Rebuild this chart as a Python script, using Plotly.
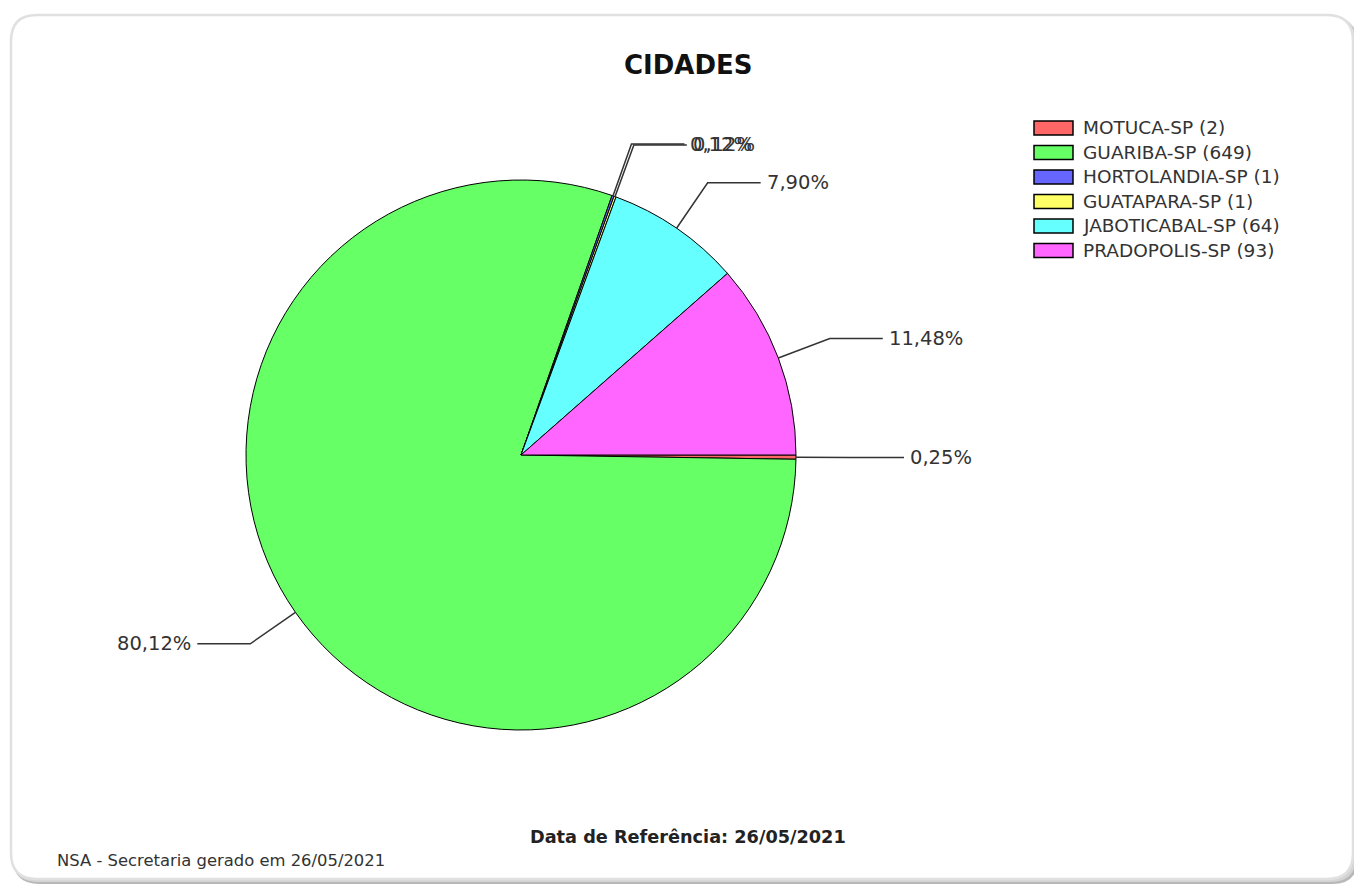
import math

import plotly.graph_objects as go

# the page body adds an 8px margin, so the figure is drawn 8px smaller
OFF = 8
W, H = 1362 - OFF, 886 - OFF

cidades = ["MOTUCA-SP", "GUARIBA-SP", "HORTOLANDIA-SP", "GUATAPARA-SP", "JABOTICABAL-SP", "PRADOPOLIS-SP"]
quantidades = [2, 649, 1, 1, 64, 93]
cores = ["#ff6666", "#66ff66", "#6666ff", "#ffff66", "#66ffff", "#ff66ff"]

titulo = "CIDADES"
rodape_centro = "Data de Referência: 26/05/2021"
rodape_esq = "NSA - Secretaria gerado em 26/05/2021"

FONT = "DejaVu Sans"
CX, CY, R = 521, 455, 275  # pie centre / radius in screen pixels


def px(x, y):
    return (x - OFF) / W, 1 - (y - OFF) / H


def rounded_rect(x0, y0, x1, y1, r):
    pts = [
        ("M", x0 + r, y0), ("L", x1 - r, y0), ("Q", x1, y0, x1, y0 + r),
        ("L", x1, y1 - r), ("Q", x1, y1, x1 - r, y1), ("L", x0 + r, y1),
        ("Q", x0, y1, x0, y1 - r), ("L", x0, y0 + r), ("Q", x0, y0, x0 + r, y0),
    ]
    out = []
    for p in pts:
        coords = []
        for i in range(1, len(p), 2):
            a, b = px(p[i], p[i + 1])
            coords.append(f"{a:.5f},{b:.5f}")
        out.append(p[0] + " " + " ".join(coords))
    return " ".join(out) + " Z"


fig = go.Figure()

dx0, dy0 = px(CX - R, CY + R)
dx1, dy1 = px(CX + R, CY - R)
fig.add_trace(go.Pie(
    labels=[f"{c} ({q})" for c, q in zip(cidades, quantidades)],
    values=quantidades,
    sort=False,
    direction="clockwise",
    rotation=90,
    marker={"colors": cores, "line": {"color": "#000000", "width": 1}},
    textinfo="none",
    hoverinfo="label+percent",
    showlegend=False,
    domain={"x": [dx0, dx1], "y": [dy0, dy1]},
))

shapes = [
    {"type": "path", "path": rounded_rect(13, 18, 1358, 884, 26), "xref": "paper", "yref": "paper",
     "fillcolor": "#b8b8b8", "line": {"width": 0}, "layer": "below"},
    {"type": "path", "path": rounded_rect(12, 16, 1356, 882, 26), "xref": "paper", "yref": "paper",
     "fillcolor": "#d4d4d4", "line": {"width": 0}, "layer": "below"},
    {"type": "path", "path": rounded_rect(11, 15, 1353, 879, 26), "xref": "paper", "yref": "paper",
     "fillcolor": "#ffffff", "line": {"color": "#e0e0e0", "width": 2.5}, "layer": "below"},
]
annotations = []

# leader lines and percentage labels
total = sum(quantidades)
acum = 0
for q in quantidades:
    frac = (acum + q / 2) / total
    acum += q
    ang = -2 * math.pi * frac
    c, s = math.cos(ang), math.sin(ang)
    p1 = (CX + R * c, CY - R * s)
    p2 = (CX + 1.2 * R * c, CY - 1.2 * R * s)
    side = 1 if c >= 0 else -1
    p3 = (p2[0] + side * 53, p2[1])
    a1, a2, a3 = px(*p1), px(*p2), px(*p3)
    shapes.append({
        "type": "path", "xref": "paper", "yref": "paper",
        "path": f"M {a1[0]},{a1[1]} L {a2[0]},{a2[1]} L {a3[0]},{a3[1]}",
        "line": {"color": "#333333", "width": 1.5},
    })
    tx, ty = px(p3[0] + side * 4, p3[1])
    annotations.append({
        "x": tx, "y": ty, "xref": "paper", "yref": "paper", "showarrow": False,
        "text": f"{100 * q / total:.2f}".replace(".", ",") + "%",
        "xanchor": "left" if side > 0 else "right", "yanchor": "middle",
        "font": {"family": FONT, "size": 19.5, "color": "#333333"},
    })

# legend
for i, (c, q, cor) in enumerate(zip(cidades, quantidades, cores)):
    yc = 128 + i * 24.5
    x0, y0 = px(1034, yc - 7)
    x1, y1 = px(1073, yc + 7)
    shapes.append({"type": "rect", "xref": "paper", "yref": "paper", "x0": x0, "x1": x1, "y0": y0, "y1": y1,
                   "fillcolor": cor, "line": {"color": "#000000", "width": 1.5}})
    tx, ty = px(1081, yc)
    annotations.append({"x": tx, "y": ty, "xref": "paper", "yref": "paper", "showarrow": False,
                        "text": f"{c} ({q})", "xanchor": "left", "yanchor": "middle",
                        "font": {"family": FONT, "size": 18.5, "color": "#333333"}})

tx, ty = px(688, 65)
annotations.append({"x": tx, "y": ty, "xref": "paper", "yref": "paper", "showarrow": False, "text": f"<b>{titulo}</b>",
                    "xanchor": "center", "yanchor": "middle", "font": {"family": FONT, "size": 26, "color": "#111111"}})
tx, ty = px(688, 837)
annotations.append({"x": tx, "y": ty, "xref": "paper", "yref": "paper", "showarrow": False, "text": f"<b>{rodape_centro}</b>",
                    "xanchor": "center", "yanchor": "middle", "font": {"family": FONT, "size": 17.7, "color": "#222222"}})
tx, ty = px(55, 860)
annotations.append({"x": tx, "y": ty, "xref": "paper", "yref": "paper", "showarrow": False, "text": rodape_esq,
                    "xanchor": "left", "yanchor": "middle", "font": {"family": FONT, "size": 16.4, "color": "#333333"}})

fig.update_layout(
    width=W, height=H,
    margin={"l": 0, "r": 0, "t": 0, "b": 0},
    paper_bgcolor="#ffffff",
    plot_bgcolor="#ffffff",
    shapes=shapes,
    annotations=annotations,
)

fig.write_html("out.html")
